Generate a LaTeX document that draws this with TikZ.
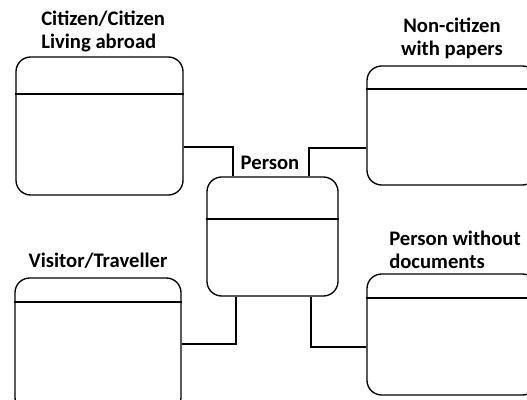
\documentclass[tikz,border=0pt]{standalone}
\usepackage{fontspec}
\setmainfont{Carlito}
\usetikzlibrary{fit}
\begin{document}
\begin{tikzpicture}[x=0.75pt,y=-0.75pt,
  entity/.style={draw, line width=1pt, rounded corners=11pt, inner sep=0pt},
  divider/.style={line width=1pt},
  link/.style={line width=1pt},
  title/.style={font=\bfseries\fontsize{15.5}{17.25}\selectfont, inner sep=0pt}]
  \clip (0,0) rectangle (527,399);
  \useasboundingbox (0,0) rectangle (527,399);

  % entity boxes
  \node[entity, fit={(16,57) (183,195)}] (cit) {};
  \node[entity, fit={(207,177) (338,296)}] (person) {};
  \node[entity, fit={(367,66) (537,185)}] (noncit) {};
  \node[entity, fit={(15,278) (181,412)}] (visit) {};
  \node[entity, fit={(367,274) (537,395)}] (nodoc) {};

  % header dividers
  \draw[divider] (cit.west |- 0,94) -- (cit.east |- 0,94);
  \draw[divider] (person.west |- 0,219) -- (person.east |- 0,219);
  \draw[divider] (noncit.west |- 0,89) -- (noncit.east |- 0,89);
  \draw[divider] (visit.west |- 0,302) -- (visit.east |- 0,302);
  \draw[divider] (nodoc.west |- 0,298) -- (nodoc.east |- 0,298);

  % titles
  \node[title, anchor=west, align=left] (tcit) at (41,31.5) {Citizen/Citizen\\Living abroad};
  \node[title] (tperson) at (270,163) {Person};
  \node[title, align=center] (tnoncit) at (452,38.5) {Non-citizen\\with papers};
  \node[title] (tvisit) at (98,261) {Visitor/Traveller};
  \node[title, anchor=west, align=left] (tnodoc) at (389,250) {Person without\\documents};

  % connectors
  \draw[link] (cit.east |- 0,147) -| (person.north -| 233,0);
  \draw[link] (person.north -| 309,0) |- (noncit.west |- 0,148);
  \draw[link] (person.south -| 236,0) |- (visit.east |- 0,344);
  \draw[link] (person.south -| 311,0) |- (nodoc.west |- 0,347);
\end{tikzpicture}
\end{document}
